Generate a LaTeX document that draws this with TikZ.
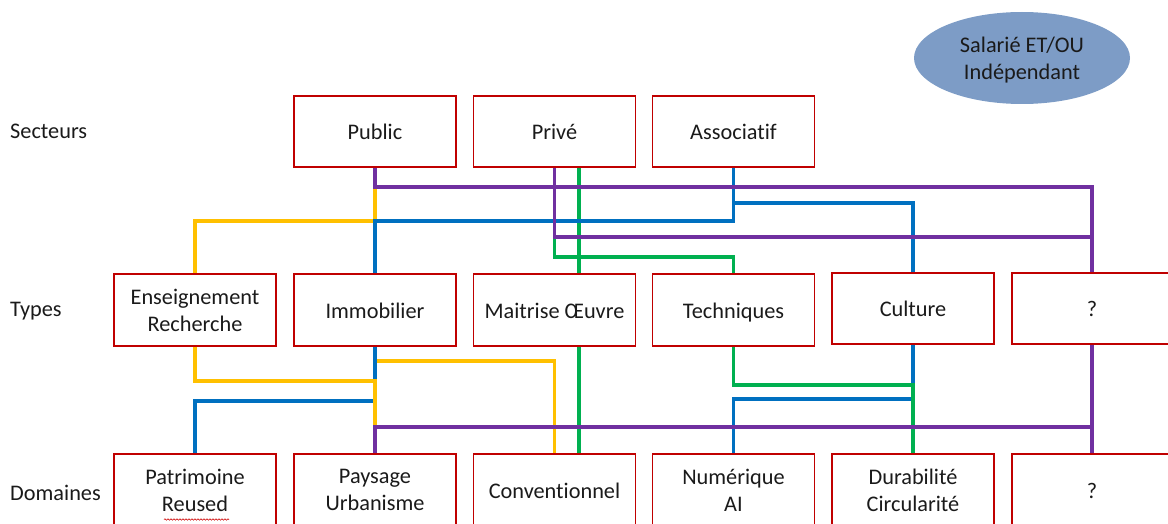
\documentclass[tikz,border=0pt]{standalone}
\usepackage{fontspec}
\setmainfont{Carlito}[Ligatures=NoCommon]
\usetikzlibrary{shapes.geometric,decorations.pathmorphing}

\definecolor{boxred}{HTML}{C00000}
\definecolor{lpurple}{HTML}{7030A0}
\definecolor{lblue}{HTML}{0070C0}
\definecolor{lyellow}{HTML}{FFC000}
\definecolor{lgreen}{HTML}{00B050}
\definecolor{ovalblue}{RGB}{125,156,198}
\definecolor{ink}{HTML}{1A1A1A}

\newcommand\lblfont{\fontsize{22.3}{27}\selectfont}

\tikzset{
  card/.style={draw=boxred, line width=1.6pt, minimum width=162pt,
    minimum height=72pt, inner sep=0pt, align=center, font=\lblfont,
    text=ink},
  oneline/.style={text height=17pt, text depth=1pt},
  rowlabel/.style={anchor=west, inner sep=0pt, font=\lblfont, text=ink},
  link/.style={line width=3.2pt},
  pline/.style={link, draw=lpurple},
  bline/.style={link, draw=lblue},
  yline/.style={link, draw=lyellow},
  gline/.style={link, draw=lgreen},
  squiggle/.style={draw=red!80!black, line width=0.6pt,
    decorate, decoration={snake, amplitude=0.7pt, segment length=3pt}},
}

\begin{document}
\begin{tikzpicture}[x=1pt, y=-1pt]
\useasboundingbox (0,0) rectangle (1168,524);
\clip (0,0) rectangle (1168,524);

% row labels
\node[rowlabel] (lsec) at (10,131) {Secteurs};
\node[rowlabel] (ltyp) at (10,311) {Types};
\node[rowlabel] (ldom) at (10,493) {Domaines};

% status oval
\node[ellipse, fill=ovalblue, minimum width=216pt, minimum height=92pt,
  inner sep=0pt, align=center, font=\lblfont, text=ink] (statut)
  at (1022,58) {};
\node[align=center, font=\lblfont, text=ink, inner sep=0pt] (statuttxt)
  at (1022,60) {Salarié ET/OU\\Indépendant};

% sectors
\node[card, oneline, minimum height=71pt] (pub)  at (375,131.5)   {Public};
\node[card, oneline, minimum height=71pt] (priv) at (554.5,131.5) {Privé};
\node[card, oneline, minimum height=71pt] (asso) at (733.5,131.5) {Associatif};

% types
\node[card] (ens)  at (195,310)   {Enseignement\\Recherche};
\node[card, oneline] (immo) at (375,310)   {Immobilier};
\node[card, oneline] (moe)  at (554.5,310) {Maitrise Œuvre};
\node[card, oneline] (tech) at (733.5,310) {Techniques};
\node[card, oneline, minimum height=71pt] (cult) at (913,308.5) {Culture};
\node[card, oneline, minimum width=160pt, minimum height=71pt] (qtyp) at (1092,308.5) {?};

% domains
\node[card] (pat)  at (195,490)   {Patrimoine\\Reused};
\node[card] (pay)  at (375,490)   {Paysage\\Urbanisme};
\node[card, oneline] (conv) at (554.5,490) {Conventionnel};
\node[card] (num)  at (733.5,490) {Numérique\\AI};
\node[card] (dur)  at (913,490)   {Durabilité\\Circularité};
\node[card, oneline, minimum width=160pt] (qdom) at (1092,490) {?};

% spell-check mark under "Reused"
\draw[squiggle] (164,519.5) -- (229,519.5);

% ---- sectors to types ----
\draw[yline] (pub.south) -- (375,221) -| (ens.north);
\draw[gline] ([xshift=24.5pt]priv.south) -- ([xshift=24.5pt]moe.north);
\draw[gline] (priv.south) -- (554.5,257) -| (tech.north);
\draw[bline] (asso.south) -- (733.5,221) -| (immo.north);
\draw[bline] (asso.south) -- (733.5,203) -| (cult.north);
\draw[pline] (pub.south) -- (375,187) -| (qtyp.north);
\draw[pline] (priv.south) -- (554.5,237) -| (qtyp.north);

% ---- types to domains ----
\coordinate (ysplit) at (375,361);
\coordinate (pjoin) at (375,427);
\draw[yline] (ysplit) -| (conv.north);
\draw[bline] (immo.south) -- (375,401) -| (pat.north);
\draw[yline] (ens.south) -- (195,381) -| (pjoin);
\draw[bline] (cult.south) -- (913,399) -| (num.north);
\draw[gline] (tech.south) -- (733.5,385) -| (dur.north);
\draw[gline] ([xshift=24.5pt]moe.south) -- ([xshift=24.5pt]conv.north);
\draw[pline] (pay.north) -- (pjoin) -| (qdom.north);
\draw[pline] (qtyp.south) -- (qdom.north);
\end{tikzpicture}
\end{document}
